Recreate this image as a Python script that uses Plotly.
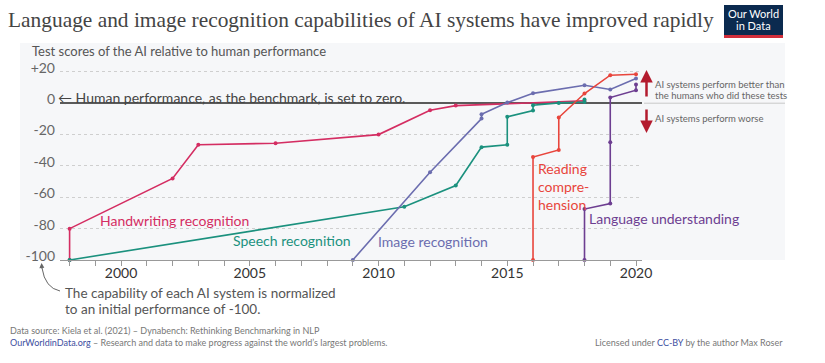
import plotly.graph_objects as go

# ---------------- data ----------------
hand_x = [1998, 1998, 2002, 2003, 2006, 2010, 2012, 2013, 2018]
hand_y = [-100, -80, -48, -26.5, -25.5, -20, -4.5, -1.5, 1.5]

speech_x = [1998, 2011, 2013, 2014, 2015, 2015, 2016, 2016, 2017, 2018, 2018]
speech_y = [-100, -66, -52.5, -28, -26.5, -8.7, -4.7, -1.3, 0.2, 0.8, 2.4]

image_x = [2009, 2012, 2014, 2014, 2015, 2016, 2018, 2019, 2020]
image_y = [-100, -44, -9.8, -7, 0.4, 6.3, 11.5, 8.8, 15.8]

reading_x = [2016, 2016, 2017, 2017, 2018, 2019, 2020]
reading_y = [-100, -34.3, -29.8, -9.1, 6.2, 17.9, 18.5]

lang_x = [2018, 2018, 2019, 2019, 2019, 2020, 2020]
lang_y = [-100, -67.5, -64, -24.9, 3.6, 8.3, 12]

y_tickvals = [-100, -80, -60, -40, -20, 0, 20]
y_ticktext = ["-100", "-80", "-60", "-40", "-20", "0", "+20"]
x_tickvals = [2000, 2005, 2010, 2015, 2020]

series = [
    ("Handwriting recognition", hand_x, hand_y, "#D42D62"),
    ("Speech recognition", speech_x, speech_y, "#1B917E"),
    ("Image recognition", image_x, image_y, "#6B6DAF"),
    ("Reading comprehension", reading_x, reading_y, "#E8453C"),
    ("Language understanding", lang_x, lang_y, "#6D3E91"),
]

W, H = 825, 363
ML, MR, MT, MB = 60, 183, 70, 103
PW, PH = W - ML - MR, H - MT - MB
XR = [1997.627, 2020.233]
YR = [-100, 21.2]


def px(x):
    return (x - ML) / PW


def py(y):
    return (H - MB - y) / PH


FONT = "Lato"
fig = go.Figure()
for name, xs, ys, col in series:
    fig.add_trace(go.Scatter(
        x=xs, y=ys, mode="lines+markers", name=name,
        line=dict(color=col, width=1.6),
        marker=dict(color=col, size=4),
        cliponaxis=False, showlegend=False, hoverinfo="skip"))

shapes = [
    dict(type="rect", xref="paper", yref="paper", x0=px(20), x1=px(785), y0=py(260), y1=py(43),
         fillcolor="#F6F7F9", line=dict(width=0), layer="below"),
    dict(type="line", xref="paper", yref="paper", x0=px(644), x1=px(785), y0=py(103.2), y1=py(103.2),
         line=dict(color="#C8C8C8", width=1)),
    # curved pointer for the note
    dict(type="path", xref="paper", yref="paper",
         path=f"M {px(60)},{py(291)} Q {px(45)},{py(288)} {px(42)},{py(268)}",
         line=dict(color="#666", width=1)),
    # logo
    dict(type="rect", xref="paper", yref="paper", x0=px(724), x1=px(783), y0=py(38), y1=py(5),
         fillcolor="#0B2A4F", line=dict(width=0)),
    dict(type="rect", xref="paper", yref="paper", x0=px(724), x1=px(783), y0=py(38), y1=py(35),
         fillcolor="#D12E3B", line=dict(width=0)),
]

ann = []


def txt(x, y, s, size, color, xanchor="left", yanchor="middle", family=FONT, align="left"):
    ann.append(dict(xref="paper", yref="paper", x=px(x), y=py(y), text=s, showarrow=False,
                    xanchor=xanchor, yanchor=yanchor, align=align,
                    font=dict(family=family, size=size, color=color)))


# series labels
txt(98, 220, "Handwriting recognition", 14, "#D42D62")
txt(231, 240, "Speech recognition", 14, "#1B917E")
txt(376, 241, "Image recognition", 14, "#6B6DAF")
txt(536, 186, "Reading<br>compre-<br>hension", 14, "#E8453C")
txt(587, 218, "Language understanding", 14, "#6D3E91")

txt(30, 50.5, "Test scores of the AI relative to human performance", 13, "#555")
txt(56, 97, "\u2190 Human performance, as the benchmark, is set to zero.", 14, "#444")
txt(63, 293, "The capability of each AI system is normalized", 13.5, "#555")
txt(63, 308.5, "to an initial performance of -100.", 13.5, "#555")

txt(653, 84.5, "AI systems perform better than", 9.5, "#666")
txt(653, 95, "the humans who did these tests", 9.5, "#666")
txt(653, 118, "AI systems perform worse", 9.5, "#666")

txt(8, 330.5, "Data source: Kiela et al. (2021) \u2013 Dynabench: Rethinking Benchmarking in NLP", 9, "#777")
txt(8, 342, "<span style='color:#3D4EA0'>OurWorldinData.org</span> \u2013 Research and data to make progress against the world\u2019s largest problems.", 9, "#777")
txt(785, 342, "Licensed under <span style='color:#3D4EA0'>CC-BY</span> by the author Max Roser", 9, "#777", xanchor="right")

txt(753.5, 14, "Our World", 11, "white", xanchor="center")
txt(753.5, 26, "in Data", 11, "white", xanchor="center")

# arrows
ann.append(dict(xref="paper", yref="paper", x=px(646.5), y=py(70), ax=0, ay=28, text="", showarrow=True,
                arrowhead=2, arrowsize=1, arrowwidth=2.5, arrowcolor="#B31B2E"))
ann.append(dict(xref="paper", yref="paper", x=px(646.5), y=py(133), ax=0, ay=-25, text="", showarrow=True,
                arrowhead=2, arrowsize=1, arrowwidth=2.5, arrowcolor="#B31B2E"))
ann.append(dict(xref="paper", yref="paper", x=px(41.5), y=py(263), ax=0.5, ay=7, text="", showarrow=True,
                arrowhead=2, arrowsize=1, arrowwidth=1, arrowcolor="#666"))

fig.update_layout(
    width=W, height=H,
    margin=dict(l=ML, r=MR, t=MT, b=MB, autoexpand=False),
    paper_bgcolor="white", plot_bgcolor="rgba(0,0,0,0)",
    title=dict(text="Language and image recognition capabilities of AI systems have improved rapidly",
               xref="container", yref="container", x=8 / W, y=1 - 20 / H, xanchor="left", yanchor="middle",
               automargin=False,
               font=dict(family="Liberation Serif", size=21.4, color="#444")),
    shapes=shapes, annotations=ann,
    font=dict(family=FONT),
)
fig.update_xaxes(range=XR, tickvals=x_tickvals, ticks="outside", ticklen=5, tickcolor="#999",
                 showline=True, linecolor="#999", linewidth=1, showgrid=False, zeroline=False,
                 automargin=False, ticklabelstandoff=-5,
                 tickfont=dict(family=FONT, size=14, color="#333"),
                 minor=dict(dtick=1, ticks="outside", ticklen=5, tickcolor="#999", showgrid=False))
fig.update_yaxes(range=YR, tickvals=y_tickvals, ticktext=y_ticktext, showgrid=True, griddash="dot",
                 gridcolor="#CFCFCF", gridwidth=1, zeroline=True, zerolinecolor="#5A5A5A", zerolinewidth=1.5,
                 showline=False, ticks="", ticklabelshift=-4, ticklabelstandoff=4, automargin=False,
                 tickfont=dict(family=FONT, size=14, color="#666"))

fig.write_html("out.html", config={"displayModeBar": False},
               post_script="document.body.style.margin='0';document.body.style.overflow='hidden';")
